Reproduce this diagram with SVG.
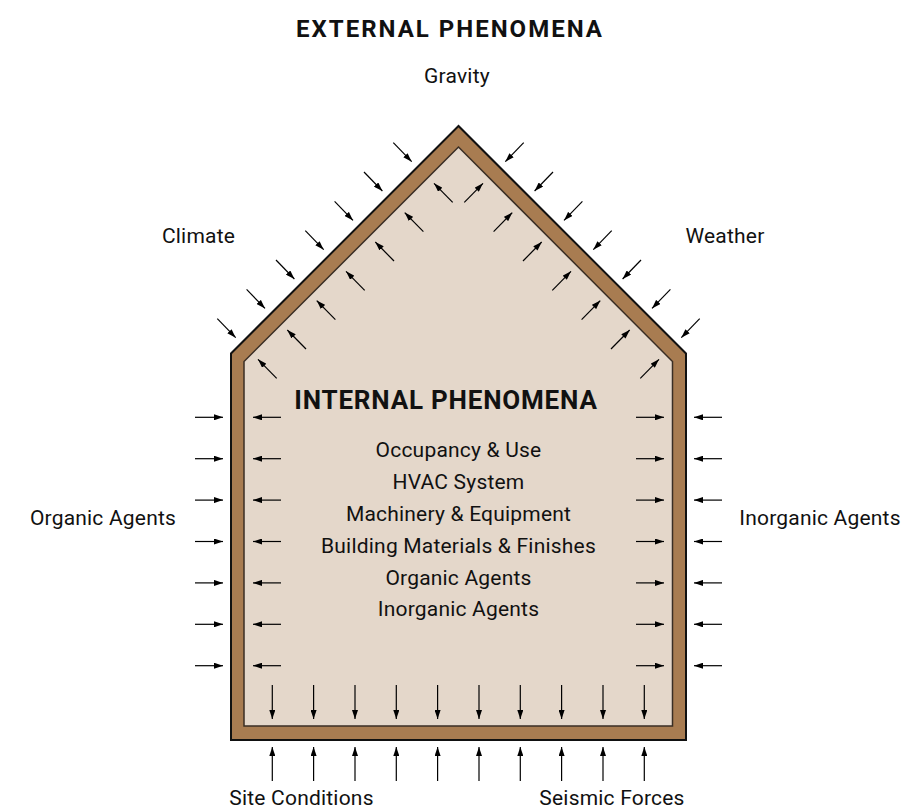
<svg xmlns="http://www.w3.org/2000/svg" width="911" height="810" viewBox="0 0 911 810">
<defs>
<marker id="ah" viewBox="0 0 9 6" refX="9" refY="3" markerWidth="9" markerHeight="6" markerUnits="userSpaceOnUse" orient="auto"><path d="M0,0 L9,3 L0,6 z" fill="#000"/></marker>
</defs>
<style>
.t{font-family:Roboto,"Liberation Sans",sans-serif;fill:#111;text-anchor:middle}
.h{font-size:24px;font-weight:bold;letter-spacing:2px}
.hi{font-size:26px;font-weight:bold;letter-spacing:0.8px}
.l{font-size:21px;letter-spacing:0.2px}
.a line{stroke:#000;stroke-width:1.2;marker-end:url(#ah)}
</style>
<rect width="911" height="810" fill="#fff"/>
<g id="house">
<polygon points="458.5,126 231,353.5 231,740 686,740 686,353.5" fill="#A87C51" stroke="#111" stroke-width="2"/>
<polygon points="458.5,147 244,361.5 244,726 672.5,726 672.5,361.5" fill="#E4D7CA" stroke="#3a2e24" stroke-width="1.5"/>
</g>
<g id="connectors" class="a">
<line x1="393.3" y1="142.7" x2="411.7" y2="161.7"/><line x1="364.0" y1="172.0" x2="382.4" y2="191.0"/><line x1="334.6" y1="201.4" x2="353.0" y2="220.4"/><line x1="305.3" y1="230.7" x2="323.7" y2="249.7"/><line x1="276.0" y1="260.0" x2="294.4" y2="279.0"/><line x1="246.6" y1="289.4" x2="265.0" y2="308.4"/><line x1="217.3" y1="318.7" x2="235.7" y2="337.7"/>
<line x1="452.7" y1="202.3" x2="434.0" y2="183.3"/><line x1="423.4" y1="231.6" x2="404.7" y2="212.6"/><line x1="394.0" y1="261.0" x2="375.3" y2="242.0"/><line x1="364.7" y1="290.3" x2="346.0" y2="271.3"/><line x1="335.4" y1="319.6" x2="316.7" y2="300.6"/><line x1="306.0" y1="349.0" x2="287.3" y2="330.0"/><line x1="276.7" y1="378.3" x2="258.0" y2="359.3"/>
<line x1="523.7" y1="142.7" x2="505.3" y2="161.7"/><line x1="553.0" y1="172.0" x2="534.6" y2="191.0"/><line x1="582.4" y1="201.4" x2="564.0" y2="220.4"/><line x1="611.7" y1="230.7" x2="593.3" y2="249.7"/><line x1="641.0" y1="260.0" x2="622.6" y2="279.0"/><line x1="670.4" y1="289.4" x2="652.0" y2="308.4"/><line x1="699.7" y1="318.7" x2="681.3" y2="337.7"/>
<line x1="464.3" y1="202.3" x2="483.0" y2="183.3"/><line x1="493.6" y1="231.6" x2="512.3" y2="212.6"/><line x1="523.0" y1="261.0" x2="541.7" y2="242.0"/><line x1="552.3" y1="290.3" x2="571.0" y2="271.3"/><line x1="581.6" y1="319.6" x2="600.3" y2="300.6"/><line x1="611.0" y1="349.0" x2="629.7" y2="330.0"/><line x1="640.3" y1="378.3" x2="659.0" y2="359.3"/>
<line x1="195" y1="417.3" x2="223" y2="417.3"/><line x1="195" y1="458.7" x2="223" y2="458.7"/><line x1="195" y1="500.1" x2="223" y2="500.1"/><line x1="195" y1="541.5" x2="223" y2="541.5"/><line x1="195" y1="582.9" x2="223" y2="582.9"/><line x1="195" y1="624.3" x2="223" y2="624.3"/><line x1="195" y1="665.7" x2="223" y2="665.7"/>
<line x1="281" y1="417.3" x2="253" y2="417.3"/><line x1="281" y1="458.7" x2="253" y2="458.7"/><line x1="281" y1="500.1" x2="253" y2="500.1"/><line x1="281" y1="541.5" x2="253" y2="541.5"/><line x1="281" y1="582.9" x2="253" y2="582.9"/><line x1="281" y1="624.3" x2="253" y2="624.3"/><line x1="281" y1="665.7" x2="253" y2="665.7"/>
<line x1="636" y1="417.3" x2="664" y2="417.3"/><line x1="636" y1="458.7" x2="664" y2="458.7"/><line x1="636" y1="500.1" x2="664" y2="500.1"/><line x1="636" y1="541.5" x2="664" y2="541.5"/><line x1="636" y1="582.9" x2="664" y2="582.9"/><line x1="636" y1="624.3" x2="664" y2="624.3"/><line x1="636" y1="665.7" x2="664" y2="665.7"/>
<line x1="722" y1="417.3" x2="694" y2="417.3"/><line x1="722" y1="458.7" x2="694" y2="458.7"/><line x1="722" y1="500.1" x2="694" y2="500.1"/><line x1="722" y1="541.5" x2="694" y2="541.5"/><line x1="722" y1="582.9" x2="694" y2="582.9"/><line x1="722" y1="624.3" x2="694" y2="624.3"/><line x1="722" y1="665.7" x2="694" y2="665.7"/>
<line x1="272.3" y1="685" x2="272.3" y2="719"/><line x1="313.6" y1="685" x2="313.6" y2="719"/><line x1="355.0" y1="685" x2="355.0" y2="719"/><line x1="396.3" y1="685" x2="396.3" y2="719"/><line x1="437.6" y1="685" x2="437.6" y2="719"/><line x1="479.0" y1="685" x2="479.0" y2="719"/><line x1="520.3" y1="685" x2="520.3" y2="719"/><line x1="561.6" y1="685" x2="561.6" y2="719"/><line x1="603.0" y1="685" x2="603.0" y2="719"/><line x1="644.3" y1="685" x2="644.3" y2="719"/>
<line x1="272.3" y1="781" x2="272.3" y2="747"/><line x1="313.6" y1="781" x2="313.6" y2="747"/><line x1="355.0" y1="781" x2="355.0" y2="747"/><line x1="396.3" y1="781" x2="396.3" y2="747"/><line x1="437.6" y1="781" x2="437.6" y2="747"/><line x1="479.0" y1="781" x2="479.0" y2="747"/><line x1="520.3" y1="781" x2="520.3" y2="747"/><line x1="561.6" y1="781" x2="561.6" y2="747"/><line x1="603.0" y1="781" x2="603.0" y2="747"/><line x1="644.3" y1="781" x2="644.3" y2="747"/>
</g>
<g id="external-title"><text class="t h" x="450" y="37">EXTERNAL PHENOMENA</text></g>
<g id="gravity"><text class="t l" x="457" y="83">Gravity</text></g>
<g id="climate"><text class="t l" x="198.5" y="243">Climate</text></g>
<g id="weather"><text class="t l" x="725" y="243">Weather</text></g>
<g id="organic-agents"><text class="t l" x="103" y="525">Organic Agents</text></g>
<g id="inorganic-agents"><text class="t l" x="820" y="525">Inorganic Agents</text></g>
<g id="site-conditions"><text class="t l" x="301.5" y="805">Site Conditions</text></g>
<g id="seismic-forces"><text class="t l" x="612" y="805">Seismic Forces</text></g>
<g id="internal">
<text class="t hi" x="446" y="409">INTERNAL PHENOMENA</text>
<text class="t l" x="458.5" y="457">Occupancy &amp; Use</text>
<text class="t l" x="458.5" y="489">HVAC System</text>
<text class="t l" x="458.5" y="521">Machinery &amp; Equipment</text>
<text class="t l" x="458.5" y="553">Building Materials &amp; Finishes</text>
<text class="t l" x="458.5" y="584.5">Organic Agents</text>
<text class="t l" x="458.5" y="616">Inorganic Agents</text>
</g>
</svg>
